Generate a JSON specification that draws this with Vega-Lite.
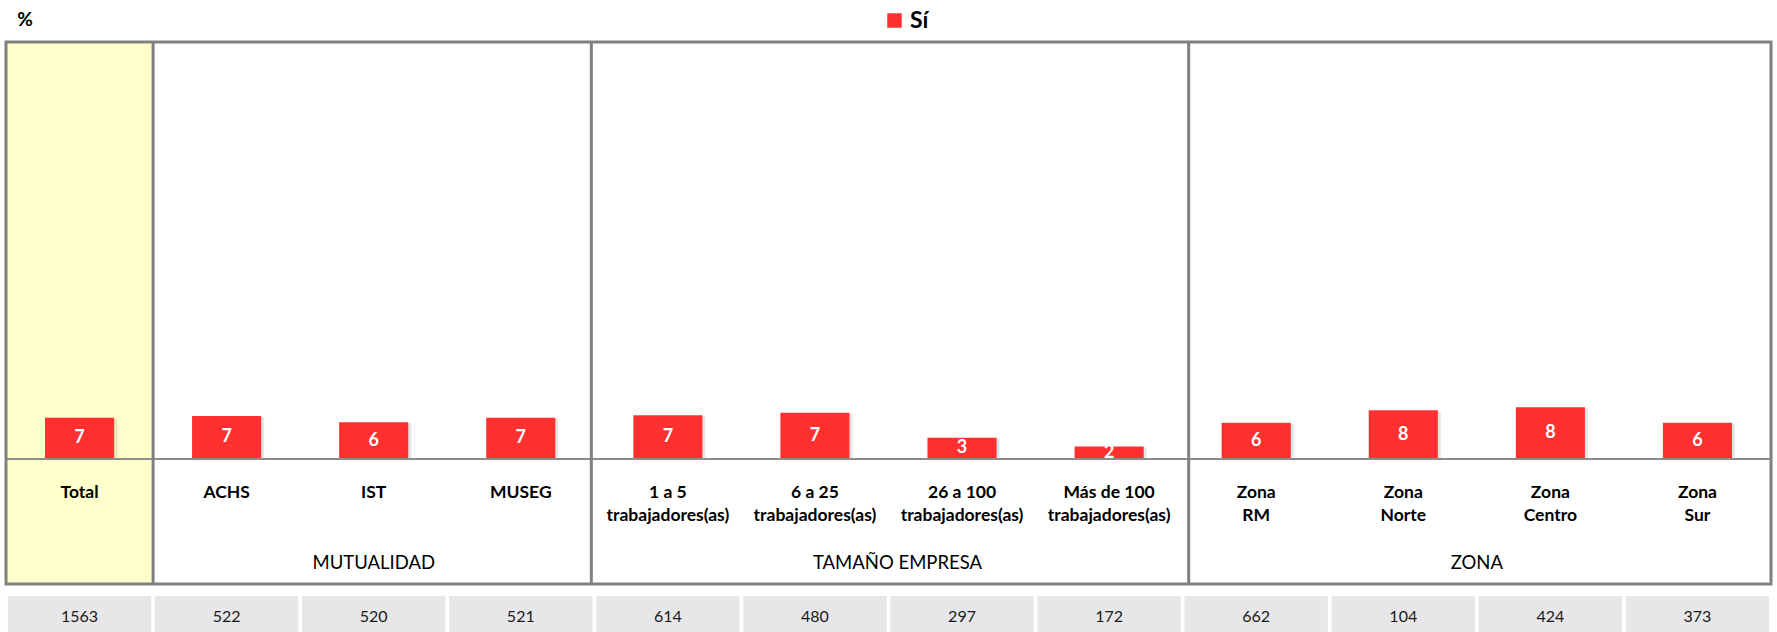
{
  "$schema": "https://vega.github.io/schema/vega-lite/v6.json",
  "width": 1765,
  "height": 590,
  "autosize": {"type": "none"},
  "padding": {"left": 6, "top": 42, "right": 6, "bottom": 0},
  "background": "white",
  "config": {"view": {"stroke": null}, "font": "Lato", "text": {"font": "Lato"}},
  "datasets": {
    "cats": [
      {"cat": "Total", "label": "Total", "value": 6.6, "n": 1563},
      {"cat": "ACHS", "label": "ACHS", "value": 6.9, "n": 522},
      {"cat": "IST", "label": "IST", "value": 5.9, "n": 520},
      {"cat": "MUSEG", "label": "MUSEG", "value": 6.6, "n": 521},
      {"cat": "1 a 5", "label": "1 a 5\ntrabajadores(as)", "value": 7.0, "n": 614},
      {"cat": "6 a 25", "label": "6 a 25\ntrabajadores(as)", "value": 7.4, "n": 480},
      {"cat": "26 a 100", "label": "26 a 100\ntrabajadores(as)", "value": 3.4, "n": 297},
      {"cat": "Más de 100", "label": "Más de 100\ntrabajadores(as)", "value": 2.0, "n": 172},
      {"cat": "Zona RM", "label": "Zona\nRM", "value": 5.8, "n": 662},
      {"cat": "Zona Norte", "label": "Zona\nNorte", "value": 7.8, "n": 104},
      {"cat": "Zona Centro", "label": "Zona\nCentro", "value": 8.3, "n": 424},
      {"cat": "Zona Sur", "label": "Zona\nSur", "value": 5.8, "n": 373}
    ],
    "groups": [
      {"name": "Total", "first": "Total", "last": "Total", "title": "", "center": "Total"},
      {"name": "MUTUALIDAD", "first": "ACHS", "last": "MUSEG", "title": "MUTUALIDAD", "center": "IST"},
      {"name": "TAMAÑO EMPRESA", "first": "1 a 5", "last": "Más de 100", "title": "TAMAÑO EMPRESA", "center": "26 a 100"},
      {"name": "ZONA", "first": "Zona RM", "last": "Zona Sur", "title": "ZONA", "center": "Zona Centro"}
    ]
  },
  "resolve": {"scale": {"y": "independent"}},
  "layer": [
    {
      "data": {"name": "groups"},
      "transform": [{"filter": "datum.name === 'Total'"}],
      "mark": {"type": "rect", "fill": "#ffffcc", "stroke": null},
      "encoding": {
        "x": {"field": "first", "type": "nominal", "bandPosition": 0,
              "scale": {"domain": ["Total", "ACHS", "IST", "MUSEG", "1 a 5", "6 a 25", "26 a 100", "Más de 100", "Zona RM", "Zona Norte", "Zona Centro", "Zona Sur"], "paddingInner": 0, "paddingOuter": 0},
              "axis": null},
        "x2": {"field": "last", "bandPosition": 1},
        "y": {"datum": 66.72, "type": "quantitative", "scale": {"domain": [-27.68, 66.72], "nice": false, "zero": false}, "axis": null},
        "y2": {"datum": -20.0}
      }
    },
    {
      "data": {"name": "cats"},
      "mark": {"type": "bar", "color": "#e7e7e9", "width": {"band": 0.975}},
      "encoding": {
        "x": {"field": "cat", "type": "nominal", "axis": null},
        "y": {"datum": -21.92, "type": "quantitative", "scale": {"domain": [-27.68, 66.72], "nice": false, "zero": false}, "axis": null},
        "y2": {"datum": -27.68}
      }
    },
    {
      "data": {"name": "cats"},
      "mark": {"type": "bar", "color": "#000000", "opacity": 0.1, "xOffset": 3, "yOffset": 1, "width": {"band": 0.47}},
      "encoding": {
        "x": {"field": "cat", "type": "nominal", "axis": null},
        "y": {"field": "value", "type": "quantitative", "scale": {"domain": [-27.68, 66.72], "nice": false, "zero": false}, "axis": null}
      }
    },
    {
      "data": {"name": "cats"},
      "mark": {"type": "bar", "width": {"band": 0.47}},
      "encoding": {
        "x": {"field": "cat", "type": "nominal", "axis": null},
        "y": {"field": "value", "type": "quantitative", "scale": {"domain": [-27.68, 66.72], "nice": false, "zero": false}, "axis": null},
        "color": {"datum": "Sí", "type": "nominal", "scale": {"range": ["#ff3030"]},
                  "legend": {"orient": "none", "legendX": 877, "legendY": -33, "title": null, "symbolType": "square", "symbolSize": 210, "symbolStrokeWidth": 0, "labelFontSize": 23, "labelFont": "Lato", "labelFontWeight": "bold", "labelColor": "#000000", "labelOffset": 4, "padding": 0}}
      }
    },
    {
      "data": {"name": "cats"},
      "mark": {"type": "rule", "color": "#8c8c8c", "strokeWidth": 2},
      "encoding": {
        "y": {"datum": 0, "type": "quantitative", "scale": {"domain": [-27.68, 66.72], "nice": false, "zero": false}, "axis": null}
      }
    },
    {
      "data": {"values": [{"a": "Total", "b": "Zona Sur"}]},
      "mark": {"type": "rect", "fill": null, "fillOpacity": 0, "stroke": "#808080", "strokeWidth": 3},
      "encoding": {
        "x": {"field": "a", "type": "nominal", "bandPosition": 0, "axis": null},
        "x2": {"field": "b", "bandPosition": 1},
        "y": {"datum": 66.72, "type": "quantitative", "scale": {"domain": [-27.68, 66.72], "nice": false, "zero": false}, "axis": null},
        "y2": {"datum": -20.0}
      }
    },
    {
      "data": {"name": "groups"},
      "transform": [{"filter": "datum.name === 'MUTUALIDAD'"}],
      "mark": {"type": "rule", "color": "#808080", "strokeWidth": 3},
      "encoding": {
        "x": {"field": "first", "type": "nominal", "bandPosition": 0, "axis": null},
        "y": {"datum": 66.72, "type": "quantitative", "scale": {"domain": [-27.68, 66.72], "nice": false, "zero": false}, "axis": null},
        "y2": {"datum": -20.0}
      }
    },
    {
      "data": {"name": "groups"},
      "transform": [{"filter": "datum.name === 'TAMAÑO EMPRESA'"}],
      "mark": {"type": "rule", "color": "#808080", "strokeWidth": 3, "xOffset": -3},
      "encoding": {
        "x": {"field": "first", "type": "nominal", "bandPosition": 0, "axis": null},
        "y": {"datum": 66.72, "type": "quantitative", "scale": {"domain": [-27.68, 66.72], "nice": false, "zero": false}, "axis": null},
        "y2": {"datum": -20.0}
      }
    },
    {
      "data": {"name": "groups"},
      "transform": [{"filter": "datum.name === 'ZONA'"}],
      "mark": {"type": "rule", "color": "#808080", "strokeWidth": 3, "xOffset": 6},
      "encoding": {
        "x": {"field": "first", "type": "nominal", "bandPosition": 0, "axis": null},
        "y": {"datum": 66.72, "type": "quantitative", "scale": {"domain": [-27.68, 66.72], "nice": false, "zero": false}, "axis": null},
        "y2": {"datum": -20.0}
      }
    },
    {
      "data": {"name": "cats"},
      "mark": {"type": "text", "color": "white", "fontWeight": "bold", "fontSize": 18, "baseline": "middle", "align": "center"},
      "encoding": {
        "x": {"field": "cat", "type": "nominal", "axis": null},
        "y": {"field": "value", "type": "quantitative", "scale": {"domain": [-55.36, 133.44], "nice": false, "zero": false}, "axis": null},
        "text": {"field": "value", "format": ".0f"}
      }
    },
    {
      "data": {"name": "cats"},
      "mark": {"type": "text", "color": "black", "fontWeight": "bold", "fontSize": 17.5, "baseline": "top", "align": "center", "lineBreak": "\n", "lineHeight": 22.5},
      "encoding": {
        "x": {"field": "cat", "type": "nominal", "axis": null},
        "y": {"datum": -4.0, "type": "quantitative", "scale": {"domain": [-27.68, 66.72], "nice": false, "zero": false}, "axis": null},
        "text": {"field": "label"}
      }
    },
    {
      "data": {"name": "groups"},
      "transform": [{"filter": "datum.name === 'MUTUALIDAD'"}],
      "mark": {"type": "text", "color": "black", "fontSize": 18.5, "baseline": "middle", "align": "center"},
      "encoding": {
        "x": {"field": "center", "type": "nominal", "bandPosition": 0.5, "axis": null},
        "y": {"datum": -16.64, "type": "quantitative", "scale": {"domain": [-27.68, 66.72], "nice": false, "zero": false}, "axis": null},
        "text": {"field": "title"}
      }
    },
    {
      "data": {"name": "groups"},
      "transform": [{"filter": "datum.name === 'TAMAÑO EMPRESA'"}],
      "mark": {"type": "text", "color": "black", "fontSize": 18.5, "baseline": "middle", "align": "center", "xOffset": 9},
      "encoding": {
        "x": {"field": "center", "type": "nominal", "bandPosition": 0, "axis": null},
        "y": {"datum": -16.64, "type": "quantitative", "scale": {"domain": [-27.68, 66.72], "nice": false, "zero": false}, "axis": null},
        "text": {"field": "title"}
      }
    },
    {
      "data": {"name": "groups"},
      "transform": [{"filter": "datum.name === 'ZONA'"}],
      "mark": {"type": "text", "color": "black", "fontSize": 18.5, "baseline": "middle", "align": "center"},
      "encoding": {
        "x": {"field": "center", "type": "nominal", "bandPosition": 0, "axis": null},
        "y": {"datum": -16.64, "type": "quantitative", "scale": {"domain": [-27.68, 66.72], "nice": false, "zero": false}, "axis": null},
        "text": {"field": "title"}
      }
    },
    {
      "data": {"name": "cats"},
      "mark": {"type": "text", "color": "#1a1a1a", "fontSize": 16, "baseline": "middle", "align": "center"},
      "encoding": {
        "x": {"field": "cat", "type": "nominal", "axis": null},
        "y": {"datum": -25.28, "type": "quantitative", "scale": {"domain": [-27.68, 66.72], "nice": false, "zero": false}, "axis": null},
        "text": {"field": "n"}
      }
    },
    {
      "data": {"values": [{"sym": "%"}]},
      "mark": {"type": "text", "color": "black", "fontWeight": "bold", "fontSize": 19, "baseline": "middle", "align": "center"},
      "encoding": {
        "x": {"datum": "Total", "type": "nominal", "bandPosition": 0.13, "axis": null},
        "y": {"datum": 70.24, "type": "quantitative", "scale": {"domain": [-27.68, 66.72], "nice": false, "zero": false}, "axis": null},
        "text": {"field": "sym"}
      }
    }
  ]
}
